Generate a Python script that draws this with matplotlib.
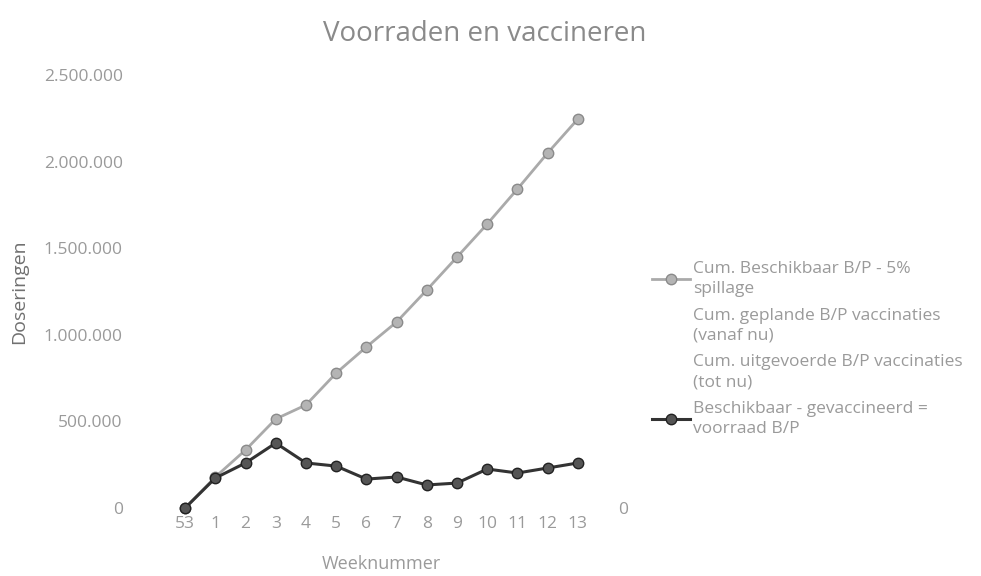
import matplotlib.pyplot as plt
from matplotlib.lines import Line2D
from matplotlib.ticker import FuncFormatter

plt.rcParams['font.family'] = ['Open Sans', 'DejaVu Sans']

weeks = ['53', '1', '2', '3', '4', '5', '6', '7', '8', '9', '10', '11', '12', '13']
beschikbaar = [0, 179000, 335000, 514000, 595000, 779000, 930000, 1074000,
               1259000, 1449000, 1640000, 1842000, 2050000, 2246000]
voorraad = [0, 173000, 260000, 375000, 260000, 242000, 167000, 179000,
            133000, 144000, 225000, 202000, 231000, 260000]

labels = ['Cum. Beschikbaar B/P - 5%\nspillage',
          'Cum. geplande B/P vaccinaties\n(vanaf nu)',
          'Cum. uitgevoerde B/P vaccinaties\n(tot nu)',
          'Beschikbaar - gevaccineerd =\nvoorraad B/P']

txt = '#9a9a9a'

fig = plt.figure(figsize=(9.81, 5.76), dpi=100)
ax = fig.add_axes([170 / 981, 68 / 576, 423 / 981, 433 / 576])

x = list(range(len(weeks)))
ax.plot(x, beschikbaar, color='#aaaaaa', lw=2, marker='o', ms=7.5,
        mfc='#b4b4b4', mec='#8a8a8a', clip_on=False, zorder=3)
ax.plot(x, voorraad, color='#333333', lw=2.2, marker='o', ms=7.5,
        mfc='#555555', mec='#222222', clip_on=False, zorder=4)

ax.set_xlim(-0.5, len(weeks) - 0.5)
ax.set_ylim(0, 2500000)
ax.set_xticks(x)
ax.set_xticklabels(weeks)
ax.set_yticks(range(0, 2500001, 500000))
ax.yaxis.set_major_formatter(FuncFormatter(lambda v, p: '{:,.0f}'.format(v).replace(',', '.')))
ax.tick_params(axis='x', length=0, pad=6, labelsize=12.5, labelcolor=txt)
ax.tick_params(axis='y', length=0, pad=34, labelsize=12.5, labelcolor=txt)
for s in ax.spines.values():
    s.set_visible(False)

ax2 = ax.twinx()
ax2.set_ylim(0, 1)
ax2.set_yticks([0])
ax2.set_yticklabels(['0'])
ax2.tick_params(axis='y', length=0, pad=18, labelsize=12.5, labelcolor=txt)
for s in ax2.spines.values():
    s.set_visible(False)

ax.set_xlabel('Weeknummer', color=txt, fontsize=13, labelpad=16)
ax.set_ylabel('Doseringen', color='#707070', fontsize=14, labelpad=11)
fig.text(485 / 981, 1 - 34 / 576, 'Voorraden en vaccineren', ha='center', va='center',
         color='#8a8a8a', fontsize=20)

handles = [
    Line2D([], [], color='#aaaaaa', lw=2, marker='o', ms=7.5, mfc='#b4b4b4', mec='#8a8a8a'),
    Line2D([], [], color='none'),
    Line2D([], [], color='none'),
    Line2D([], [], color='#333333', lw=2.2, marker='o', ms=7.5, mfc='#555555', mec='#222222'),
]
leg = fig.legend(handles, labels, loc='upper left', bbox_to_anchor=(652 / 981, 1 - 261 / 576),
                 frameon=False, fontsize=12.5, labelcolor=txt, handlelength=2.2,
                 handletextpad=0.15, labelspacing=0.6, borderpad=0, borderaxespad=0)
for t in leg.get_texts():
    t.set_linespacing(1.35)

fig.savefig('out.png', dpi=100, facecolor='white')
